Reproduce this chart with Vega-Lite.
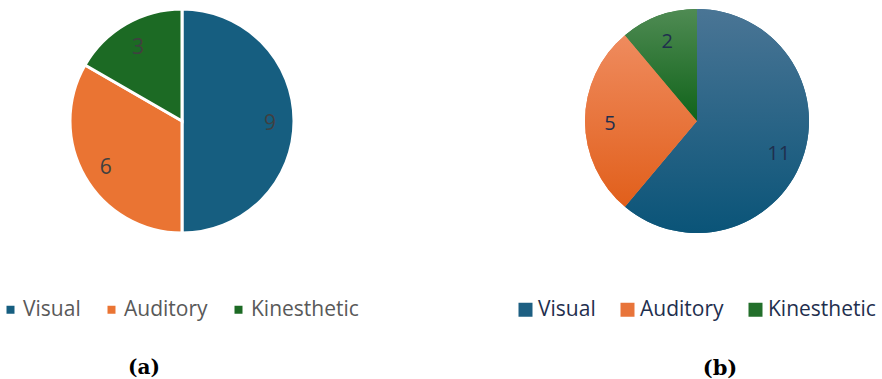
{
  "$schema": "https://vega.github.io/schema/vega-lite/v6.json",
  "padding": 0,
  "background": "white",
  "bounds": "flush",
  "config": {"view": {"stroke": null}, "concat": {"spacing": 151}},
  "datasets": {
    "a": [
      {"cat": "Visual", "n": 9, "k": 1},
      {"cat": "Auditory", "n": 6, "k": 2},
      {"cat": "Kinesthetic", "n": 3, "k": 3}
    ],
    "b": [
      {"cat": "Visual", "n": 11, "k": 1},
      {"cat": "Auditory", "n": 5, "k": 2},
      {"cat": "Kinesthetic", "n": 2, "k": 3}
    ]
  },
  "resolve": {"scale": {"color": "independent"}, "legend": {"color": "independent"}},
  "hconcat": [
    {
      "width": 364,
      "height": 242,
      "data": {"name": "a"},
      "title": {"text": "(a)", "orient": "bottom", "font": "DejaVu Serif", "fontSize": 20, "fontWeight": "bold", "color": "#000000", "dx": -38, "offset": 38},
      "encoding": {
        "theta": {"field": "n", "type": "quantitative", "stack": true},
        "order": {"field": "k", "type": "quantitative"}
      },
      "layer": [
        {
          "mark": {"type": "arc", "outerRadius": 112, "stroke": "white", "strokeWidth": 3},
          "encoding": {
            "color": {
              "field": "cat", "type": "nominal",
              "scale": {"domain": ["Visual", "Auditory", "Kinesthetic"], "range": ["#165e80", "#ea7433", "#1c6a24"]},
              "legend": {"orient": "bottom", "direction": "horizontal", "title": null, "symbolType": "square", "symbolSize": 64, "symbolStrokeWidth": 0, "labelFontSize": 21, "labelFont": "Open Sans", "labelColor": "#595959", "columnPadding": 20, "labelOffset": 2, "offset": 57, "padding": 0}
            }
          }
        },
        {"mark": {"type": "text", "radius": 88, "dy": 3, "fontSize": 21, "font": "Open Sans", "color": "#404040"}, "encoding": {"text": {"field": "n", "type": "quantitative"}}}
      ]
    },
    {
      "width": 364,
      "height": 242,
      "data": {"name": "b"},
      "title": {"text": "(b)", "orient": "bottom", "font": "DejaVu Serif", "fontSize": 21, "fontWeight": "bold", "color": "#000000", "dx": 23, "offset": 38},
      "encoding": {
        "theta": {"field": "n", "type": "quantitative", "stack": true},
        "order": {"field": "k", "type": "quantitative"}
      },
      "layer": [
        {
          "mark": {"type": "arc", "outerRadius": 112},
          "encoding": {
            "color": {
              "field": "cat", "type": "nominal",
              "scale": {"domain": ["Visual", "Auditory", "Kinesthetic"], "range": ["#1d5f82", "#e8743a", "#236f2b"]},
              "legend": {
                "orient": "bottom", "direction": "horizontal", "title": null, "symbolType": "square", "symbolSize": 196, "symbolStrokeWidth": 0, "labelFontSize": 21, "labelFont": "Open Sans", "labelColor": "#1f2f4e", "columnPadding": 21, "labelOffset": 2, "offset": 57, "padding": 0,
                "encode": {"symbols": {"update": {"fill": [
                  {"test": "datum.label === 'Visual'", "value": {"gradient": "linear", "x1": 0, "y1": 0, "x2": 0, "y2": 1, "stops": [{"offset": 0, "color": "#4a7595"}, {"offset": 1, "color": "#0a5478"}]}},
                  {"test": "datum.label === 'Auditory'", "value": {"gradient": "linear", "x1": 0, "y1": 0, "x2": 0, "y2": 1, "stops": [{"offset": 0, "color": "#ef8b5e"}, {"offset": 1, "color": "#e15f1b"}]}},
                  {"value": {"gradient": "linear", "x1": 0, "y1": 0, "x2": 0, "y2": 1, "stops": [{"offset": 0, "color": "#4f8b53"}, {"offset": 1, "color": "#10631a"}]}}
                ]}}}
              }
            }
          }
        },
        {
          "mark": {"type": "arc", "outerRadius": 112},
          "encoding": {
            "color": {
              "condition": [
                {"test": "datum.cat === 'Visual'", "value": {"gradient": "linear", "x1": 0, "y1": 0, "x2": 0, "y2": 1, "stops": [{"offset": 0, "color": "#4a7595"}, {"offset": 1, "color": "#0a5478"}]}},
                {"test": "datum.cat === 'Auditory'", "value": {"gradient": "linear", "x1": 0, "y1": 0, "x2": 0, "y2": 1, "stops": [{"offset": 0, "color": "#ef8b5e"}, {"offset": 1, "color": "#e15f1b"}]}}
              ],
              "value": {"gradient": "linear", "x1": 0, "y1": 0, "x2": 0, "y2": 1, "stops": [{"offset": 0, "color": "#4f8b53"}, {"offset": 1, "color": "#10631a"}]}
            }
          }
        },
        {"mark": {"type": "text", "radius": 87, "dy": 3, "fontSize": 20, "font": "Open Sans", "color": "#1f2f4e"}, "encoding": {"text": {"field": "n", "type": "quantitative"}}}
      ]
    }
  ]
}
